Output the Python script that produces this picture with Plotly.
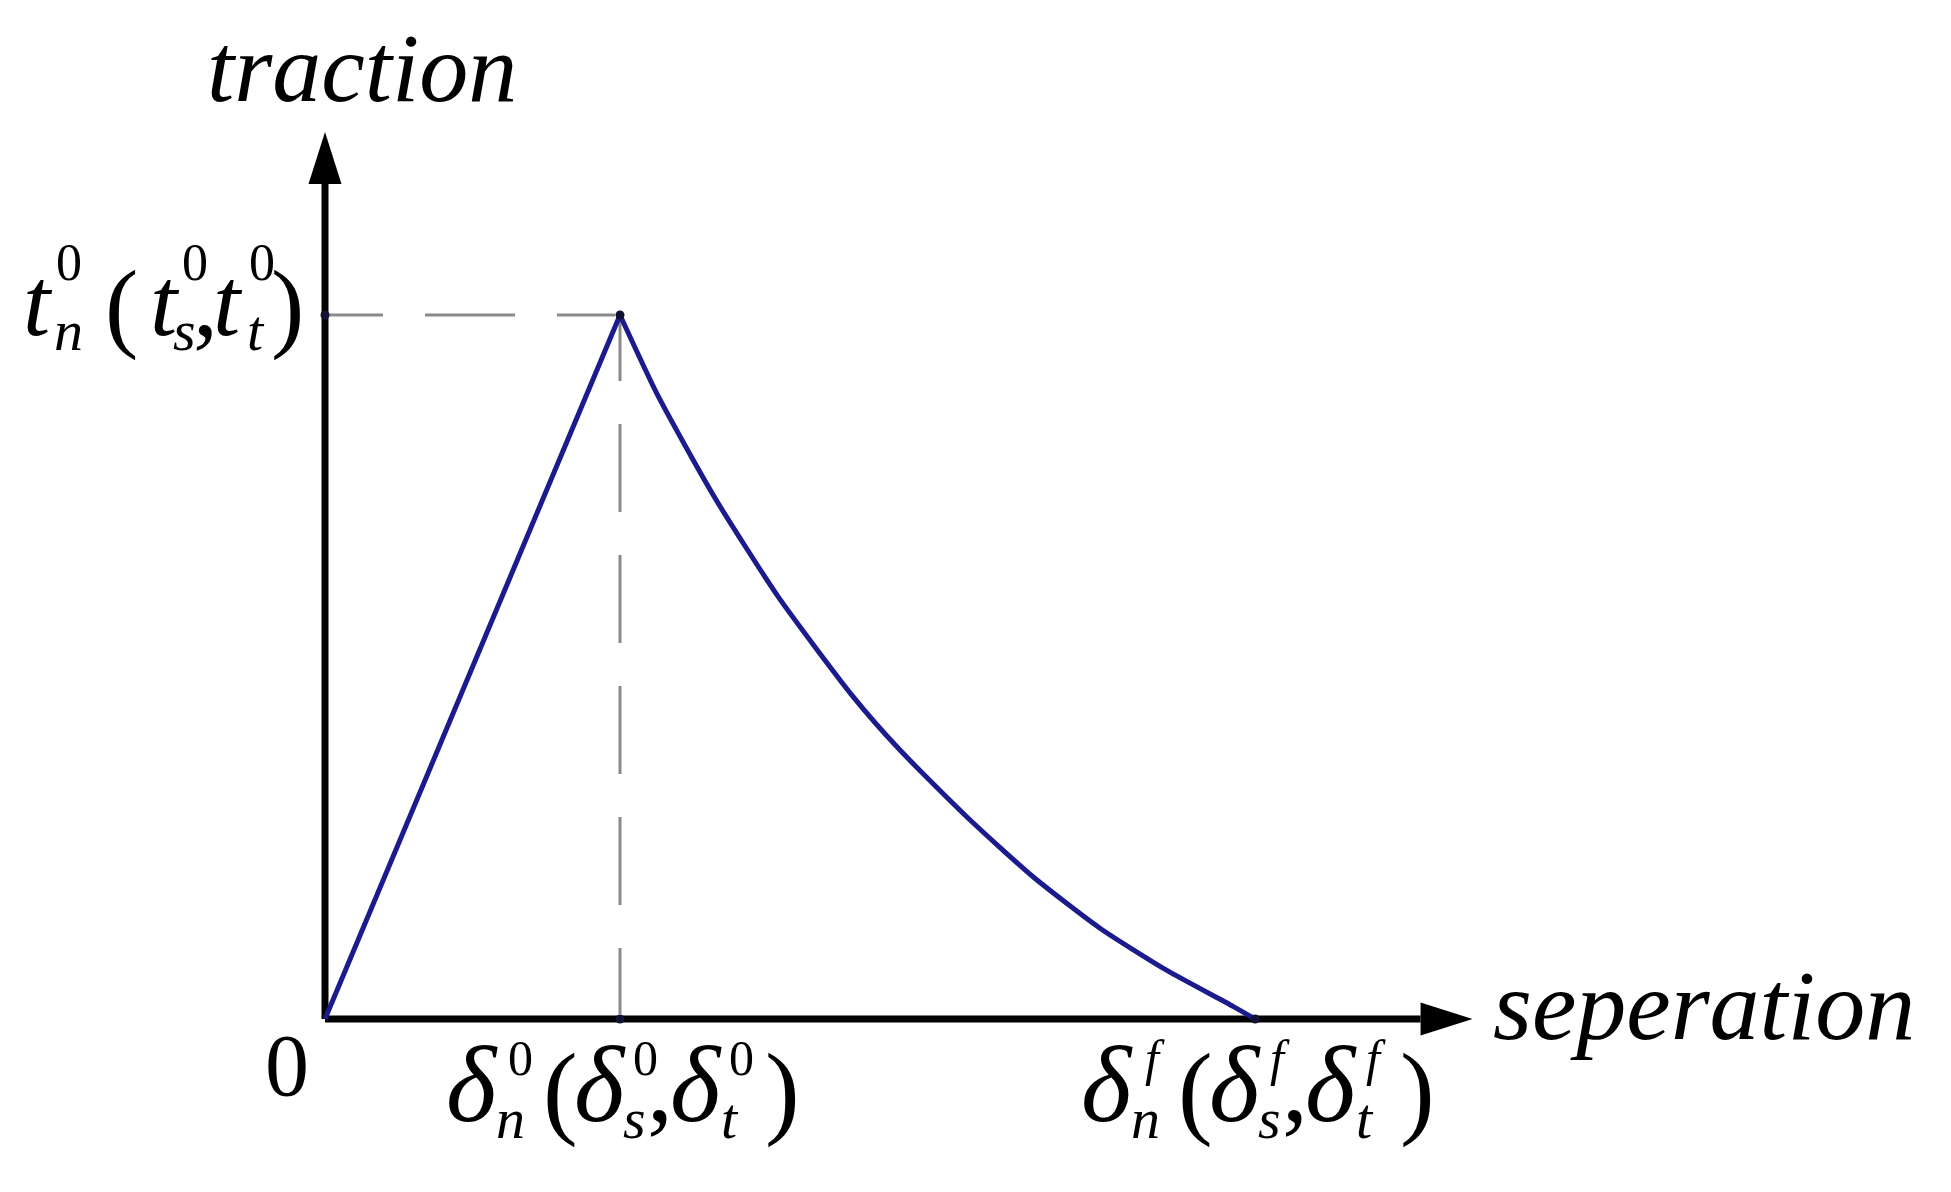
import plotly.graph_objects as go

# ---------------- data (normalised: delta_0 = 1, t_0 = 1) ----------------
separation = [0.0, 1.0, 1.129, 1.322, 1.536, 1.790, 1.949, 2.176, 2.400, 2.627, 2.854, 3.078, 3.153]
traction = [0.0, 1.0, 0.885, 0.740, 0.600, 0.458, 0.382, 0.287, 0.202, 0.129, 0.069, 0.018, 0.0]

delta_0 = 1.0          # damage initiation separation
delta_f = 3.153        # final separation
t_0 = 1.0              # peak traction
x_axis_end = 3.89      # arrow tip of separation axis
y_axis_end = 1.26      # arrow tip of traction axis

# ---------------- geometry of the canvas ----------------
W, H = 1951, 1192
ORIGIN_PX = (325.0, 1019.0)   # pixel position of the origin
PX_PER_X = 295.0              # pixels per unit separation
PX_PER_Y = 704.0              # pixels per unit traction

x_range = [-ORIGIN_PX[0] / PX_PER_X, (W - ORIGIN_PX[0]) / PX_PER_X]
y_range = [-(H - ORIGIN_PX[1]) / PX_PER_Y, ORIGIN_PX[1] / PX_PER_Y]

def dxp(px):
    return px / PX_PER_X

def dyp(px):
    return px / PX_PER_Y

BLUE = "#1b1b8e"
GREY = "#8a8a8a"
FONT = "Liberation Serif"

fig = go.Figure()

# dashed guide lines
fig.add_trace(go.Scatter(x=[0, delta_0], y=[t_0, t_0], mode="lines",
                         line=dict(color=GREY, width=3, dash="58px,42px,90px,42px"),
                         hoverinfo="skip", showlegend=False))
fig.add_trace(go.Scatter(x=[delta_0, delta_0], y=[t_0, 0], mode="lines",
                         line=dict(color=GREY, width=3, dash="66px,43px,88px,43px,88px,43px,88px,43px,88px,43px"),
                         hoverinfo="skip", showlegend=False))

# axes (lines + arrow heads)
AXW = 7
AH_LEN, AH_HALF = 52, 16.5
fig.add_trace(go.Scatter(x=[0, x_axis_end - dxp(AH_LEN)], y=[0, 0], mode="lines",
                         line=dict(color="black", width=AXW), hoverinfo="skip", showlegend=False))
fig.add_trace(go.Scatter(x=[0, 0], y=[0, y_axis_end - dyp(AH_LEN)], mode="lines",
                         line=dict(color="black", width=AXW), hoverinfo="skip", showlegend=False))
fig.add_shape(type="path", xref="x", yref="y", fillcolor="black", line=dict(width=0),
              path=f"M {x_axis_end} 0 L {x_axis_end - dxp(AH_LEN)} {dyp(AH_HALF)} "
                   f"L {x_axis_end - dxp(AH_LEN)} {-dyp(AH_HALF)} Z")
fig.add_shape(type="path", xref="x", yref="y", fillcolor="black", line=dict(width=0),
              path=f"M 0 {y_axis_end} L {dxp(AH_HALF)} {y_axis_end - dyp(AH_LEN)} "
                   f"L {-dxp(AH_HALF)} {y_axis_end - dyp(AH_LEN)} Z")

# traction-separation law
fig.add_trace(go.Scatter(x=separation[:2], y=traction[:2], mode="lines",
                         line=dict(color=BLUE, width=5), hoverinfo="skip", showlegend=False))
fig.add_trace(go.Scatter(x=separation[1:], y=traction[1:], mode="lines",
                         line=dict(color=BLUE, width=5, shape="spline", smoothing=0.6),
                         hoverinfo="skip", showlegend=False))

# small dots at key points
fig.add_trace(go.Scatter(x=[0, delta_0, delta_0, delta_f], y=[t_0, t_0, 0, 0], mode="markers",
                         marker=dict(color="#111133", size=9), hoverinfo="skip", showlegend=False))

# ---------------- text ----------------
def piece(text, x, y, dx, base_dy, size):
    """place text so its baseline sits base_dy px below anchor (x, y)."""
    fig.add_annotation(x=x, y=y, xref="x", yref="y", text=text, showarrow=False,
                       xanchor="center", yanchor="middle", xshift=dx,
                       yshift=-(base_dy - 0.3375 * size), borderpad=0,
                       font=dict(family=FONT, size=size, color="black"))

def compound(x, y, sym, sup, subs, offs, base, sizes):
    # offs: x offsets for [main1, sup1, sub1, '(', main2, sup2, sub2, ',', main3, sup3, sub3, ')']
    b_main, b_sup, b_sub = base
    s_main, s_sup, s_sub, s_par = sizes
    for k, i in enumerate([0, 4, 8]):
        piece(f"<i>{sym}</i>", x, y, offs[i], b_main, s_main)
        piece(sup, x, y, offs[i + 1], b_sup, s_sup)
        piece(f"<i>{subs[k]}</i>", x, y, offs[i + 2], b_sub, s_sub)
    piece("(", x, y, offs[3], b_main + 4, s_par)
    piece(",", x, y, offs[7], b_main, s_par)
    piece(")", x, y, offs[11], b_main + 4, s_par)

# traction tick label
compound(0, t_0, "t", "0", ["n", "s", "t"],
         [-287, -256, -257, -204, -160, -130, -141, -120, -97, -63, -69, -38],
         (20, -35, 35), (98, 52, 58, 100))
# separation tick labels
bottom_offs = [-148, -100, -110, -60, -20, 25, 14, 40, 76, 121, 110, 162]
compound(delta_0, 0, "δ", "0", ["n", "s", "t"], bottom_offs, (102, 56, 119), (108, 50, 58, 104))
compound(delta_f, 0, "δ", "<i>f</i>", ["n", "s", "t"], bottom_offs, (102, 56, 119), (108, 50, 58, 104))

# origin label
piece("0", 0, 0, -38, 76, 88)
# axis titles
piece("<i>traction</i>", 0, y_axis_end, 37, -31, 98)
piece("<i>seperation</i>", x_axis_end, 0, 231, 20, 100)

fig.update_layout(
    width=W, height=H,
    margin=dict(l=0, r=0, t=0, b=0),
    paper_bgcolor="white", plot_bgcolor="white",
    xaxis=dict(range=x_range, visible=False, fixedrange=True),
    yaxis=dict(range=y_range, visible=False, fixedrange=True),
    showlegend=False,
)

fig.write_html("out.html", config={"displayModeBar": False},
               post_script="document.body.style.margin='0px';document.body.style.overflow='hidden';")
